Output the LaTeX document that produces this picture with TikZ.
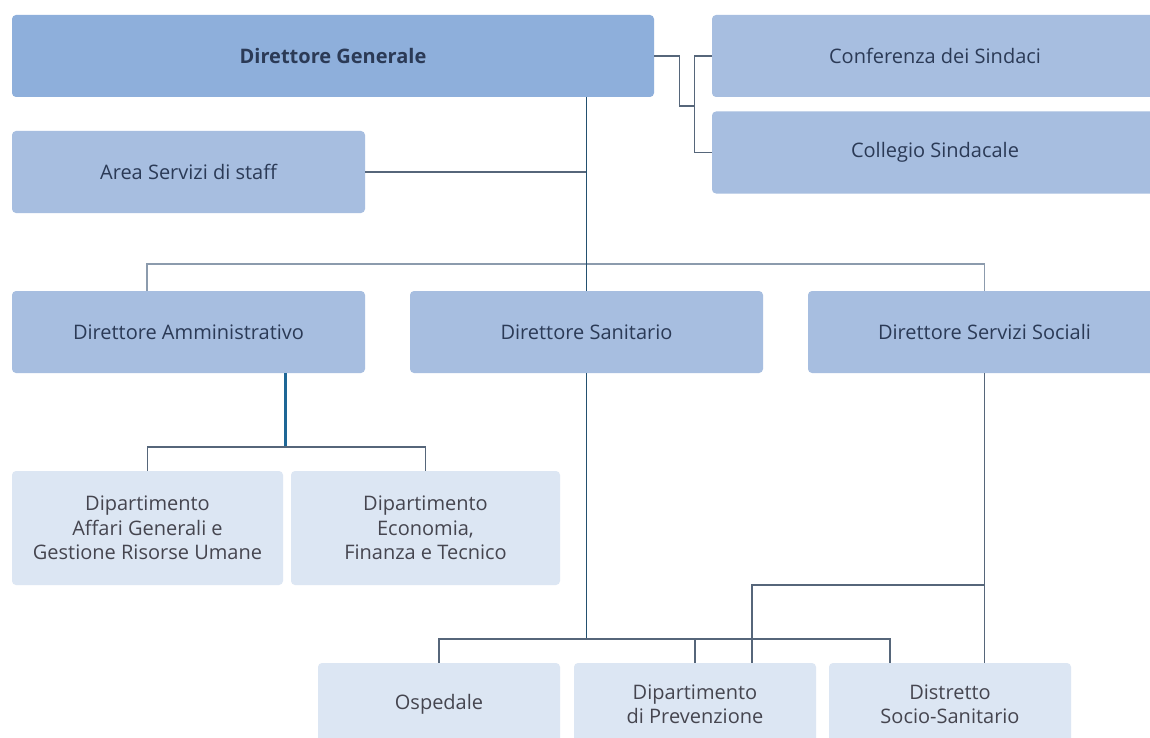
\documentclass[tikz,border=0pt]{standalone}
\usepackage{fontspec}
\setmainfont{Open Sans}
\begin{document}
\begin{tikzpicture}[x=1pt,y=-1pt,
  box/.style={rounded corners=4pt, minimum height=82pt, inner sep=0pt, align=center, font=\fontsize{20}{24.5}\selectfont},
  topbox/.style={box, fill=dgblue, text=navy},
  midbox/.style={box, fill=midblue, text=navy},
  lowbox/.style={box, fill=lowblue, text=lowtext},
  conn/.style={draw=conngray, line width=1.3pt},
  spine/.style={draw=spinecol, line width=1.8pt},
  branch/.style={draw=branchgray, line width=1.5pt},
  dathick/.style={draw=dablue, line width=3pt}
]
\definecolor{dgblue}{HTML}{8EAFDB}
\definecolor{midblue}{HTML}{A7BEE0}
\definecolor{lowblue}{HTML}{DCE6F3}
\definecolor{navy}{HTML}{2B3A56}
\definecolor{lowtext}{HTML}{45454F}
\definecolor{conngray}{HTML}{56667A}
\definecolor{spinecol}{HTML}{23506F}
\definecolor{branchgray}{HTML}{8C9BAD}
\definecolor{dablue}{HTML}{1E6796}
\clip (0,0) rectangle (1150,738);
\fill[white] (0,0) rectangle (1150,738);

% boxes
\node[topbox, minimum width=642pt, font=\fontsize{20}{24.5}\selectfont\bfseries] (dg) at (333,56) {Direttore Generale};
\node[midbox, minimum width=446pt] (conf) at (935,56) {Conferenza dei Sindaci};
\node[midbox, minimum width=446pt] (coll) at (935,152.5) {Collegio Sindacale};
\node[midbox, minimum width=353pt] (staff) at (188.5,172) {Area Servizi di staff};
\node[midbox, minimum width=353pt] (da) at (188.5,332) {Direttore Amministrativo};
\node[midbox, minimum width=353pt] (ds) at (586.5,332) {Direttore Sanitario};
\node[midbox, minimum width=353pt] (dss) at (984.5,332) {Direttore Servizi Sociali};
\node[lowbox, minimum width=271pt, minimum height=114pt] (dag) at (147.5,528) {Dipartimento\\Affari Generali e\\Gestione Risorse Umane};
\node[lowbox, minimum width=269pt, minimum height=114pt] (dec) at (425.5,528) {Dipartimento\\Economia,\\Finanza e Tecnico};
\node[lowbox, minimum width=242pt] (osp) at (439,704) {Ospedale};
\node[lowbox, minimum width=242pt] (dprev) at (695,704) {Dipartimento\\di Prevenzione};
\node[lowbox, minimum width=242pt] (dist) at (950,704) {Distretto\\Socio-Sanitario};

% junction coordinates
\coordinate (k) at (695,106);
\coordinate (j1) at (147,264);
\coordinate (j2) at (984.5,264);
\coordinate (j3) at (285,447);
\coordinate (j4) at (586.5,639);
\coordinate (j5) at (890,639);
\coordinate (j6) at (752,585);

% connectors
\draw[conn] (dg.east) -- ++(25,0) |- (k);
\draw[conn] (conf.west) -- ++(-17,0) |- (coll.west);
\draw[conn] (staff.east) -- (staff.east -| ds.north);
\draw[branch] (j1 |- da.north) -- (j1) -- (j2) -- (dss.north);
\draw[spine] (dg.south -| ds.north) -- (ds.north);
\draw[dathick] (da.south -| j3) -- (j3);
\draw[conn] (dag.north) -- (dag.north |- j3) -- (dec.north |- j3) -- (dec.north);
\draw[spine] (ds.south) -- (j4);
\draw[conn] (osp.north) |- (j5) -- (j5 |- dist.north);
\draw[conn] (dprev.north |- j4) -- (dprev.north);
\draw[conn] (dss.south) -- (dss.south |- dist.north);
\draw[conn] (dss.south |- j6) -- (j6) -- (j6 |- dprev.north);
\end{tikzpicture}
\end{document}
